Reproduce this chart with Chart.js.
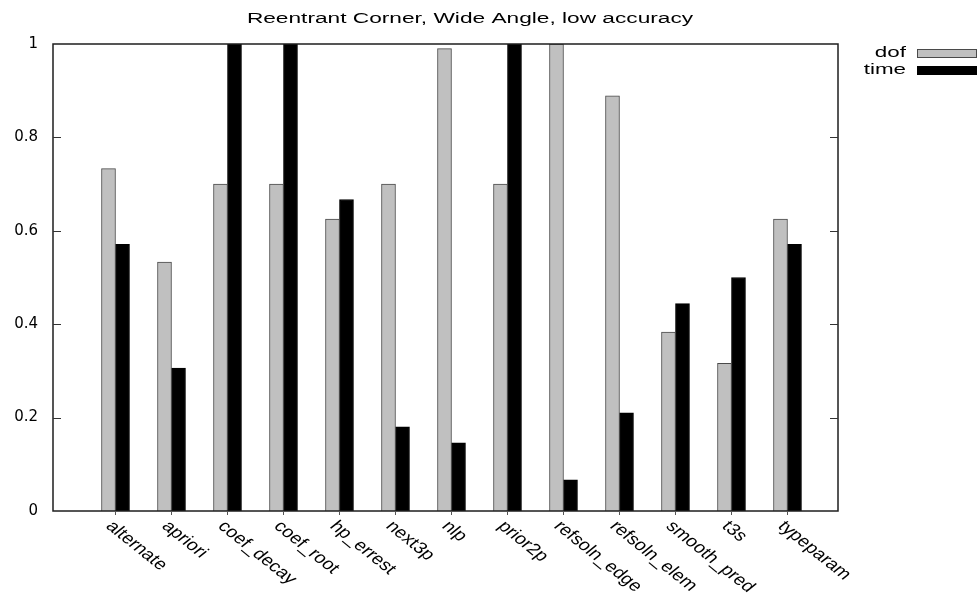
<!DOCTYPE html>
<html>
<head>
<meta charset="utf-8">
<title>Reentrant Corner, Wide Angle, low accuracy</title>
<script src="https://cdn.jsdelivr.net/npm/chart.js@4.4.1/dist/chart.umd.min.js"></script>
<style>
  html, body { margin: 0; padding: 0; background: #ffffff; }
  canvas { display: block; }
</style>
</head>
<body>
<canvas id="chart" width="978" height="604"></canvas>
<script>
// Strategies compared in the benchmark
const categories = [
  'alternate', 'apriori', 'coef_decay', 'coef_root', 'hp_errest', 'next3p', 'nlp',
  'prior2p', 'refsoln_edge', 'refsoln_elem', 'smooth_pred', 't3s', 'typeparam'
];

// Normalised degrees of freedom per strategy
const dofValues = [0.733, 0.533, 0.700, 0.700, 0.625, 0.700, 0.990, 0.700, 1.000, 0.889, 0.383, 0.316, 0.625];

// Normalised run time per strategy
const timeValues = [0.571, 0.306, 1.000, 1.000, 0.667, 0.180, 0.146, 1.000, 0.067, 0.210, 0.444, 0.500, 0.571];

const seriesNames = ['dof', 'time'];
const yTicks = [0, 0.2, 0.4, 0.6, 0.8, 1];
const titleText = 'Reentrant Corner, Wide Angle, low accuracy';

const FONT = '"Liberation Sans", Arial, Helvetica, sans-serif';
const TICK_FONT = '"DejaVu Sans", "Liberation Sans", sans-serif';

// Draws a line of text with a horizontal stretch (and optional rotation)
function drawText(ctx, text, x, y, opts) {
  ctx.save();
  ctx.translate(x, y);
  ctx.scale(opts.sx || 1, 1);
  if (opts.rotate) ctx.rotate(opts.rotate);
  ctx.font = (opts.size || 14) + 'px ' + FONT;
  ctx.fillStyle = opts.color || '#000';
  ctx.textAlign = opts.align || 'left';
  ctx.textBaseline = opts.baseline || 'middle';
  ctx.fillText(text, 0, 0);
  ctx.restore();
}

// Frame, inward ticks, rotated category labels, title and key
const decorations = {
  id: 'decorations',
  afterDatasetsDraw(chart) {
    const { ctx, chartArea: a, scales: { x, y } } = chart;
    ctx.save();

    // plot border
    ctx.strokeStyle = '#1e1e1e';
    ctx.lineWidth = 1.5;
    ctx.strokeRect(a.left, a.top, a.right - a.left, a.bottom - a.top);

    // y tick marks pointing inward, mirrored on the right
    ctx.lineWidth = 1;
    ctx.strokeStyle = '#333';
    yTicks.forEach(v => {
      if (v === 0 || v === 1) return;
      const py = Math.round(y.getPixelForValue(v)) + 0.5;
      ctx.beginPath();
      ctx.moveTo(a.left, py); ctx.lineTo(a.left + 8, py);
      ctx.moveTo(a.right - 8, py); ctx.lineTo(a.right, py);
      ctx.stroke();
    });

    // category tick marks and labels
    categories.forEach((name, i) => {
      const px = x.getPixelForValue(i);
      ctx.strokeStyle = '#555';
      ctx.beginPath();
      ctx.moveTo(Math.round(px) + 0.5, a.bottom);
      ctx.lineTo(Math.round(px) + 0.5, a.bottom + 4);
      ctx.stroke();
      drawText(ctx, name, px - 10.5, a.bottom + 16, {
        size: 16, sx: 1.25, rotate: Math.PI / 4, align: 'left', baseline: 'alphabetic'
      });
    });

    // title
    drawText(ctx, titleText, 470, 19, { size: 14, sx: 1.62, align: 'center', baseline: 'middle' });

    // key
    const keyX = 917, keyW = 60;
    chart.data.datasets.forEach((ds, i) => {
      const cy = 53 + i * 17;
      drawText(ctx, ds.label, 906, cy, { size: 14, sx: 1.6, align: 'right', baseline: 'middle' });
      ctx.fillStyle = ds.borderColor;
      ctx.fillRect(keyX, cy - 4, keyW, 9);
      ctx.fillStyle = ds.backgroundColor;
      ctx.fillRect(keyX + 1, cy - 3, keyW - 2, 7);
    });

    ctx.restore();
  }
};

new Chart(document.getElementById('chart'), {
  type: 'bar',
  data: {
    datasets: [
      {
        label: seriesNames[0],
        data: categories.map((c, i) => ({ x: i, y: dofValues[i] })),
        backgroundColor: '#c0c0c0',
        borderColor: '#4a4a4a',
        borderWidth: 1,
        barThickness: 14
      },
      {
        label: seriesNames[1],
        data: categories.map((c, i) => ({ x: i, y: timeValues[i] })),
        backgroundColor: '#000000',
        borderColor: '#000000',
        borderWidth: 1,
        barThickness: 14
      }
    ]
  },
  options: {
    responsive: false,
    animation: false,
    devicePixelRatio: 1,
    layout: { padding: { left: 0, right: 140, top: 44, bottom: 93 } },
    plugins: {
      legend: { display: false },
      title: { display: false },
      tooltip: { enabled: false }
    },
    scales: {
      x: {
        type: 'linear',
        display: false,
        offset: false,
        grid: { offset: false },
        min: -1.116,
        max: 12.902
      },
      y: {
        min: 0,
        max: 1,
        afterFit(scale) { scale.width = 53; },
        afterBuildTicks(scale) { scale.ticks = yTicks.map(v => ({ value: v })); },
        ticks: {
          font: { family: TICK_FONT, size: 15 },
          color: '#000',
          padding: 15,
          callback: v => String(Math.round(v * 10) / 10)
        },
        grid: { display: false, drawTicks: false },
        border: { display: false }
      }
    }
  },
  plugins: [decorations]
});
</script>
</body>
</html>
